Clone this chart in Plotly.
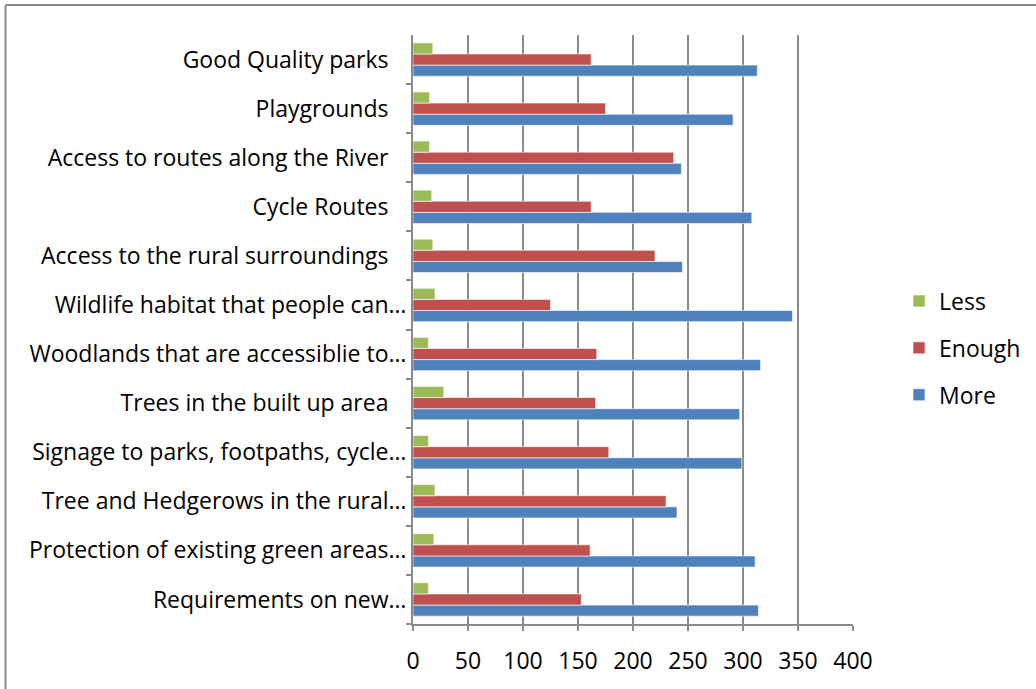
import plotly.graph_objects as go

categories = [
    "Good Quality parks",
    "Playgrounds",
    "Access to routes along the River",
    "Cycle Routes",
    "Access to the rural surroundings",
    "Wildlife habitat that people can…",
    "Woodlands that are accessiblie to…",
    "Trees in the built up area",
    "Signage to parks, footpaths, cycle…",
    "Tree and Hedgerows in the rural…",
    "Protection of existing green areas…",
    "Requirements on new…",
]
less = [18, 15, 15, 17, 18, 20, 14, 28, 14, 20, 19, 14]
enough = [162, 175, 237, 162, 220, 125, 167, 166, 178, 230, 161, 153]
more = [313, 291, 244, 308, 245, 345, 316, 297, 299, 240, 311, 314]
x_ticks = [0, 50, 100, 150, 200, 250, 300, 350, 400]

FONT = "Open Sans"
GRID = "#8a8a8a"

tick_text = [c if c.endswith("…") else c + "\u00a0" * 3 for c in categories]

fig = go.Figure()
for rank, (name, vals, color) in zip([3, 2, 1], [("More", more, "#4F81BD"),
                                               ("Enough", enough, "#C0504D"),
                                               ("Less", less, "#9BBB59")]):
    fig.add_trace(go.Bar(
        y=categories, x=vals, name=name, orientation="h",
        legendgroup=name, legendrank=rank,
        marker=dict(color=color, line=dict(color="rgba(255,255,255,0.6)", width=1)),
    ))

W, H = 1036, 689
L, R, T, B = 413, 853, 35, 624

fig.update_layout(
    width=W, height=H,
    margin=dict(l=L, r=W - R, t=T, b=H - B, autoexpand=False),
    paper_bgcolor="white", plot_bgcolor="white",
    barmode="group", bargap=0.32, bargroupgap=0,
    font=dict(family=FONT, size=23, color="black"),
    showlegend=True,
    legend=dict(
        x=(899 - L) / (R - L), xanchor="left",
        y=(B - 348) / (B - T), yanchor="middle",
        traceorder="grouped", tracegroupgap=14,
        font=dict(family=FONT, size=23, color="black"),
        bgcolor="rgba(0,0,0,0)",
    ),
    xaxis=dict(
        range=[0, 400], tickvals=x_ticks, ticktext=[str(v) for v in x_ticks],
        showgrid=True, gridcolor=GRID, gridwidth=2,
        showline=True, linecolor=GRID, linewidth=2,
        ticks="outside", ticklen=5, tickcolor=GRID, tickwidth=2,
        zeroline=False, fixedrange=True,
        tickfont=dict(family=FONT, size=23, color="black"),
        ticklabelstandoff=10,
    ),
    yaxis=dict(
        categoryorder="array", categoryarray=list(reversed(categories)),
        tickvals=categories, ticktext=tick_text,
        showgrid=False,
        showline=True, linecolor=GRID, linewidth=2,
        ticks="outside", ticklen=5, tickcolor=GRID, tickwidth=2,
        tickson="boundaries",
        tickfont=dict(family=FONT, size=23, color="black"),
        ticklabelstandoff=0,
        fixedrange=True,
    ),
)

# outer chart border (top and left edges visible)
fig.add_shape(type="line", xref="paper", yref="paper",
              x0=(5.5 - L) / (R - L), x1=(W + 5 - L) / (R - L),
              y0=(B - 5) / (B - T), y1=(B - 5) / (B - T),
              line=dict(color=GRID, width=2))
fig.add_shape(type="line", xref="paper", yref="paper",
              x0=(5.5 - L) / (R - L), x1=(5.5 - L) / (R - L),
              y0=(B - 5) / (B - T), y1=(B - H - 5) / (B - T),
              line=dict(color=GRID, width=2))

fig.write_html("out.html", config={"displayModeBar": False},
               post_script="document.body.style.margin='0';")
